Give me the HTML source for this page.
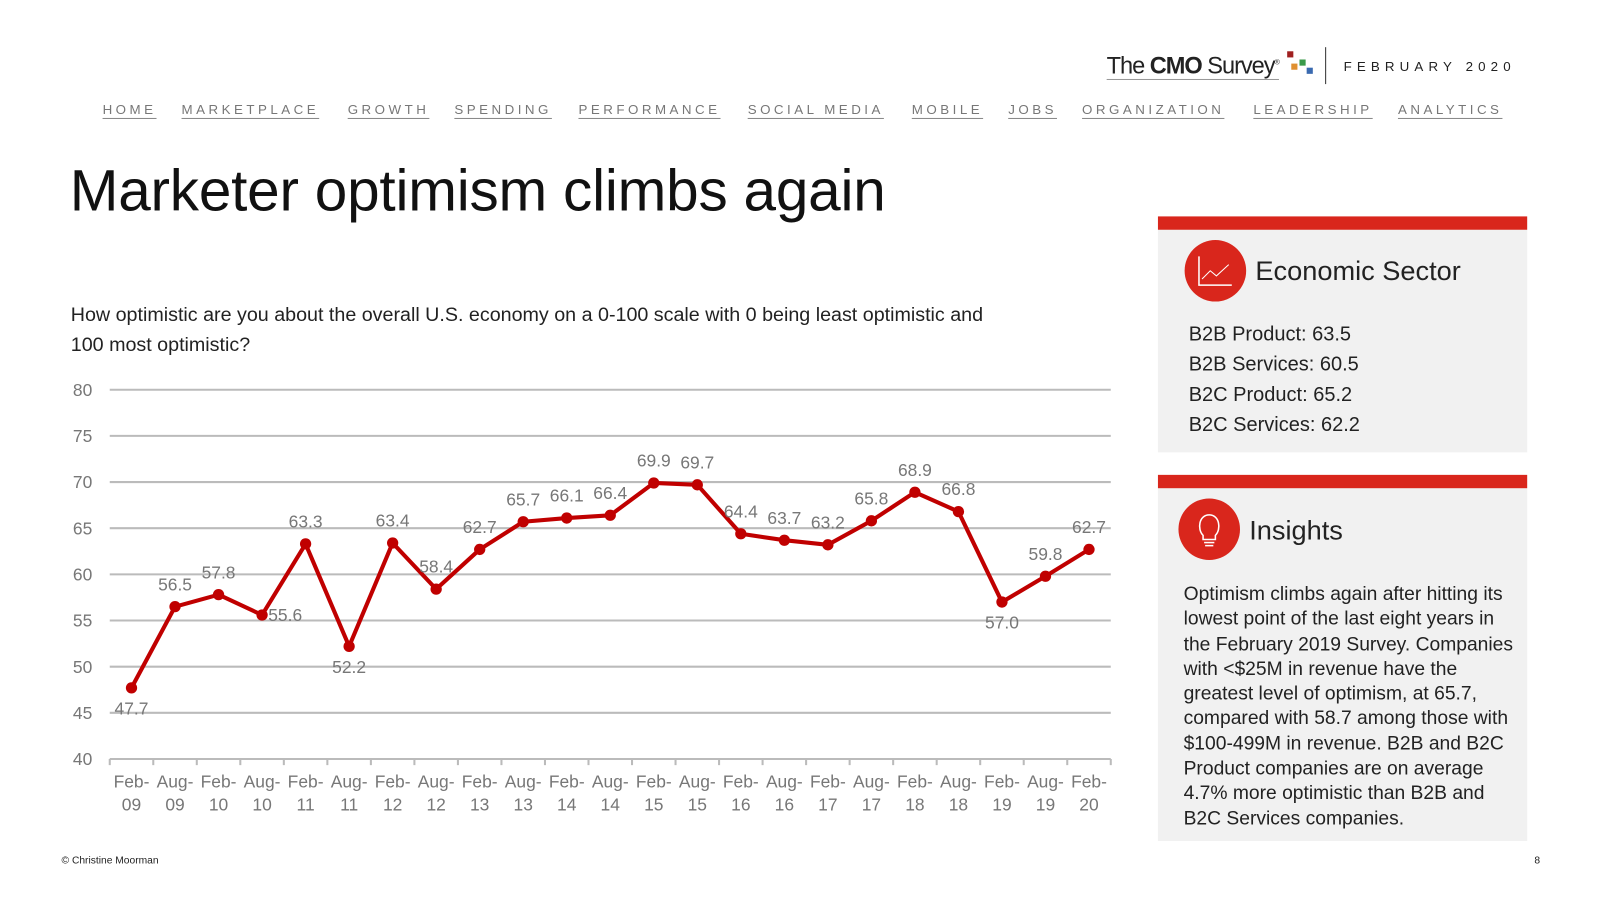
<!DOCTYPE html>
<html><head><meta charset="utf-8">
<style>
body{margin:0;width:1600px;height:900px;background:#fff;font-family:"Liberation Sans",sans-serif;position:relative;overflow:hidden}
#root{position:absolute;left:0;top:0;width:1560px;height:878px;transform:scale(1.02564);transform-origin:0 0}
.nav{position:absolute;top:99px;font-size:13px;letter-spacing:3.4px;color:#777;text-decoration:underline;text-decoration-color:#888;text-underline-offset:4px}
.abs{position:absolute}
</style></head><body>
<div id="root">
<div class="abs" style="left:1079px;top:49px;font-size:23px;letter-spacing:-1px;color:#222;border-bottom:1px solid #999;line-height:26px">The <b>CMO</b> Survey<sup style="font-size:7px">®</sup></div>
<div class="abs" style="left:1255px;top:50px;width:26px;height:26px">
<div class="abs" style="left:0;top:0;width:6px;height:6px;background:#a02020"></div>
<div class="abs" style="left:4px;top:12px;width:6px;height:6px;background:#e09030"></div>
<div class="abs" style="left:12px;top:8px;width:6px;height:6px;background:#3a9a4a"></div>
<div class="abs" style="left:19px;top:16px;width:6px;height:6px;background:#3a6ab0"></div>
</div>
<div class="abs" style="left:1292px;top:46px;width:1px;height:36px;background:#333"></div>
<div class="abs" style="left:1310px;top:57px;font-size:13px;letter-spacing:5px;color:#222">FEBRUARY 2020</div>
<a class="nav" style="left:100px">HOME</a>
<a class="nav" style="left:177px">MARKETPLACE</a>
<a class="nav" style="left:339px">GROWTH</a>
<a class="nav" style="left:443px">SPENDING</a>
<a class="nav" style="left:564px">PERFORMANCE</a>
<a class="nav" style="left:729px">SOCIAL MEDIA</a>
<a class="nav" style="left:889px">MOBILE</a>
<a class="nav" style="left:983px">JOBS</a>
<a class="nav" style="left:1055px">ORGANIZATION</a>
<a class="nav" style="left:1222px">LEADERSHIP</a>
<a class="nav" style="left:1363px">ANALYTICS</a>
<div class="abs" style="left:68px;top:153px;font-size:57px;letter-spacing:-0.2px;color:#111">Marketer optimism climbs again</div>
<div class="abs" style="left:69px;top:293px;font-size:19.2px;line-height:29px;color:#222;width:960px;white-space:nowrap">How optimistic are you about the overall U.S. economy on a 0-100 scale with 0 being least optimistic and<br>100 most optimistic?</div>
<svg class="abs" style="left:0;top:0" width="1100" height="900" id="chart"></svg>
<div class="abs" style="left:1129px;top:211px;width:360px;height:230px;background:#f1f1f1;border-top:13px solid #d9261c;box-sizing:border-box"></div>
<div class="abs" style="left:1155px;top:234px;width:60px;height:60px;border-radius:50%;background:#d9261c">
<svg width="60" height="60"><polyline points="14,16 14,44 46,44" fill="none" stroke="#fff" stroke-width="1.5"/><polyline points="17,38 25,30 31,35 43,24" fill="none" stroke="#fff" stroke-width="1"/></svg></div>
<div class="abs" style="left:1224px;top:249px;font-size:26.5px;color:#222">Economic Sector</div>
<div class="abs" style="left:1159px;top:312px;font-size:19.5px;line-height:29.3px;color:#222">B2B Product: 63.5<br>B2B Services: 60.5<br>B2C Product: 65.2<br>B2C Services: 62.2</div>
<div class="abs" style="left:1129px;top:463px;width:360px;height:357px;background:#f1f1f1;border-top:13px solid #d9261c;box-sizing:border-box"></div>
<div class="abs" style="left:1149px;top:486px;width:60px;height:60px;border-radius:50%;background:#d9261c">
<svg width="60" height="60"><path d="M24 36 C18 30 20 16 30 16 C40 16 42 30 36 36 L36 40 L24 40 Z" fill="none" stroke="#fff" stroke-width="1.5"/><line x1="25" y1="43" x2="35" y2="43" stroke="#fff" stroke-width="1.5"/><line x1="26" y1="46" x2="34" y2="46" stroke="#fff" stroke-width="1.5"/></svg></div>
<div class="abs" style="left:1218px;top:502px;font-size:26.5px;color:#222">Insights</div>
<div class="abs" style="left:1154px;top:567px;width:340px;font-size:18.8px;line-height:24.3px;color:#222;white-space:nowrap">Optimism climbs again after hitting its<br>lowest point of the last eight years in<br>the February 2019 Survey. Companies<br>with &lt;$25M in revenue have the<br>greatest level of optimism, at 65.7,<br>compared with 58.7 among those with<br>$100-499M in revenue. B2B and B2C<br>Product companies are on average<br>4.7% more optimistic than B2B and<br>B2C Services companies.</div>
<div class="abs" style="left:60px;top:834px;font-size:10px;color:#222">© Christine Moorman</div>
<div class="abs" style="left:1496px;top:834px;font-size:10px;color:#222">8</div>
</div>
<script>
const categories=["Feb-09","Aug-09","Feb-10","Aug-10","Feb-11","Aug-11","Feb-12","Aug-12","Feb-13","Aug-13","Feb-14","Aug-14","Feb-15","Aug-15","Feb-16","Aug-16","Feb-17","Aug-17","Feb-18","Aug-18","Feb-19","Aug-19","Feb-20"];
const values=[47.7,56.5,57.8,55.6,63.3,52.2,63.4,58.4,62.7,65.7,66.1,66.4,69.9,69.7,64.4,63.7,63.2,65.8,68.9,66.8,57.0,59.8,62.7];
const labelPlacement=["b","a","a","r","a","b","a","a","a","a","a","a","a","a","a","a","a","a","a","a","b","a","a"];
const yTicks=[40,45,50,55,60,65,70,75,80];
const NS="http://www.w3.org/2000/svg";
const svg=document.getElementById('chart');
const x0=107,x1=1083,yTop=380,yBot=740,yMin=40,yMax=80;
const band=(x1-x0)/categories.length;
const X=i=>x0+band*(i+0.5);
const Y=v=>yBot-(v-yMin)/(yMax-yMin)*(yBot-yTop);
function mk(t,a){const e=document.createElementNS(NS,t);for(const k in a)e.setAttribute(k,a[k]);svg.appendChild(e);return e;}
yTicks.forEach(t=>{
 if(t>yMin){const g=mk('line',{x1:x0,x2:x1,y1:Y(t),y2:Y(t),stroke:'#bbb','stroke-width':2});
 
 }
 const l=mk('text',{x:90,y:Y(t)+6,'text-anchor':'end','font-size':17,fill:'#777'});l.textContent=t;
 
 
});
const ax=mk('line',{x1:x0,x2:x1,y1:yBot,y2:yBot,stroke:'#bbb','stroke-width':2});


for(let i=0;i<=categories.length;i++){mk('line',{x1:x0+band*i,x2:x0+band*i,y1:yBot,y2:yBot+6,stroke:'#bbb','stroke-width':2});}
categories.forEach((c,i)=>{
 const p=c.split('-');
 const t=mk('text',{x:X(i),y:768,'text-anchor':'middle','font-size':17,fill:'#777'});t.textContent=p[0]+'-';
 
 
 const t2=mk('text',{x:X(i),y:790,'text-anchor':'middle','font-size':17,fill:'#777'});t2.textContent=p[1];
 
 
});
const line=mk('polyline',{points:values.map((v,i)=>X(i)+','+Y(v)).join(' '),fill:'none',stroke:'#c00000','stroke-width':4,'stroke-linejoin':'round'});


values.forEach((v,i)=>{
 const c=mk('circle',{cx:X(i),cy:Y(v),r:5.5,fill:'#c00000'});
 
 
 const pl=labelPlacement[i];
 let lx=X(i),ly=Y(v)-16,anc='middle';
 if(pl==='b'){ly=Y(v)+26;}
 if(pl==='r'){lx=X(i)+6;ly=Y(v)+6;anc='start';}
 const t=mk('text',{x:lx,y:ly,'text-anchor':anc,'font-size':17,fill:'#777'});t.textContent=v.toFixed(1);
 
 
});
</script>
</body></html>
